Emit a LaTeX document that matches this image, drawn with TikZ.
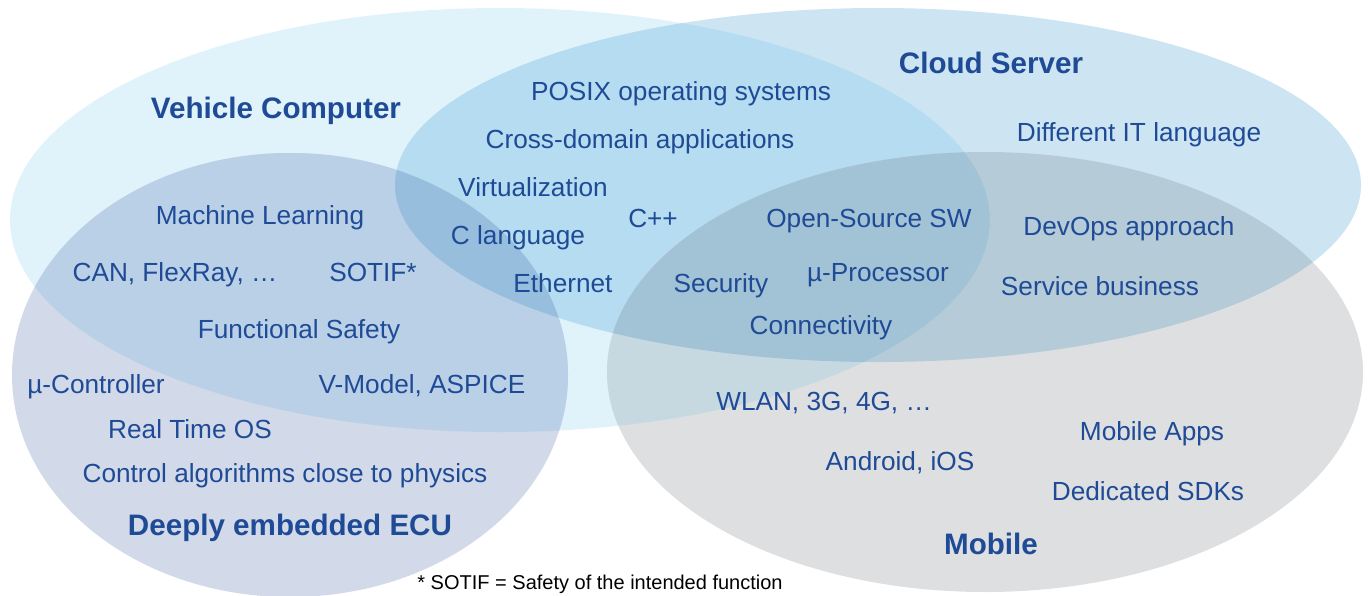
\documentclass[tikz,border=0pt]{standalone}
\usepackage{fontspec}
\setmainfont{Liberation Sans}
\definecolor{txt}{HTML}{1F4A96}
\definecolor{cV}{HTML}{E0F2FA}
\definecolor{cC}{HTML}{CDE4F2}
\definecolor{cVC}{HTML}{B5DCF0}
\definecolor{cE}{HTML}{D2D9E8}
\definecolor{cEV}{HTML}{BAD0E7}
\definecolor{cEVC}{HTML}{97BEDD}
\definecolor{cM}{HTML}{DEDFE1}
\definecolor{cMC}{HTML}{B5CBD8}
\definecolor{cMV}{HTML}{C6D9E1}
\definecolor{cMVC}{HTML}{A2C3D6}
\newcommand\ellVeh{(500,220) ellipse [x radius=245pt, y radius=106pt]}
\newcommand\ellCld{(878,185) ellipse [x radius=241.5pt, y radius=88.5pt]}
\newcommand\ellEcu{(290,375) ellipse [x radius=139pt, y radius=111pt]}
\newcommand\ellMob{(985,372) ellipse [x radius=189pt, y radius=110pt]}
\begin{document}
\begin{tikzpicture}[x=0.5pt,y=-0.5pt,
  lbl/.style={text=txt, font=\fontsize{13.1pt}{15pt}\selectfont, inner sep=0pt, anchor=base},
  ttl/.style={text=txt, font=\fontsize{14.8pt}{17pt}\selectfont\bfseries, inner sep=0pt, anchor=base},
  note/.style={text=black, font=\fontsize{10pt}{12pt}\selectfont, inner sep=0pt, anchor=base}]
\useasboundingbox (0,0) rectangle (1368,595);
% base ellipses
\fill[cV] \ellVeh;
\fill[cC] \ellCld;
\begin{scope}\clip \ellVeh; \fill[cVC] \ellCld; \end{scope}
\fill[cE] \ellEcu;
\begin{scope}\clip \ellEcu; \fill[cEV] \ellVeh; \end{scope}
\begin{scope}\clip \ellEcu; \clip \ellVeh; \fill[cEVC] \ellCld; \end{scope}
\fill[cM] \ellMob;
\begin{scope}\clip \ellMob; \fill[cMC] \ellCld; \end{scope}
\begin{scope}\clip \ellMob; \fill[cMV] \ellVeh; \end{scope}
\begin{scope}\clip \ellMob; \clip \ellVeh; \fill[cMVC] \ellCld; \end{scope}
% titles
\node[ttl] (tveh) at (276,118.5) {Vehicle Computer};
\node[ttl] (tcld) at (991,73.5) {Cloud Server};
\node[ttl] (tecu) at (290,535.5) {Deeply embedded ECU};
\node[ttl] (tmob) at (991,554) {Mobile};
% labels
\node[lbl] (posix) at (681,100) {POSIX operating systems};
\node[lbl] (cross) at (640,148) {Cross-domain applications};
\node[lbl] (virt) at (533,196) {Virtualization};
\node[lbl] (cpp) at (653,227) {C++};
\node[lbl] (clang) at (518,244) {C language};
\node[lbl] (eth) at (563,292) {Ethernet};
\node[lbl] (oss) at (869,227) {Open-Source SW};
\node[lbl] (sec) at (721,292) {Security};
\node[lbl] (mproc) at (878,281) {µ-Processor};
\node[lbl] (conn) at (821,334) {Connectivity};
\node[lbl] (difit) at (1139,141) {Different IT language};
\node[lbl] (devops) at (1129,235) {DevOps approach};
\node[lbl] (serv) at (1100,295) {Service business};
\node[lbl] (ml) at (260,224) {Machine Learning};
\node[lbl] (can) at (175,281) {CAN, FlexRay, …};
\node[lbl] (sotif) at (373,281) {SOTIF*};
\node[lbl] (fs) at (299,338) {Functional Safety};
\node[lbl] (mctrl) at (96,393) {µ-Controller};
\node[lbl] (vmod) at (422,393) {V-Model, ASPICE};
\node[lbl] (rtos) at (190,438) {Real Time OS};
\node[lbl] (ctrl) at (285,482) {Control algorithms close to physics};
\node[lbl] (wlan) at (824,410) {WLAN, 3G, 4G, …};
\node[lbl] (apps) at (1152,440) {Mobile Apps};
\node[lbl] (andr) at (900,470) {Android, iOS};
\node[lbl] (sdk) at (1148,500) {Dedicated SDKs};
% footnote
\node[note] (fn) at (600,589) {* SOTIF = Safety of the intended function};
\end{tikzpicture}
\end{document}
